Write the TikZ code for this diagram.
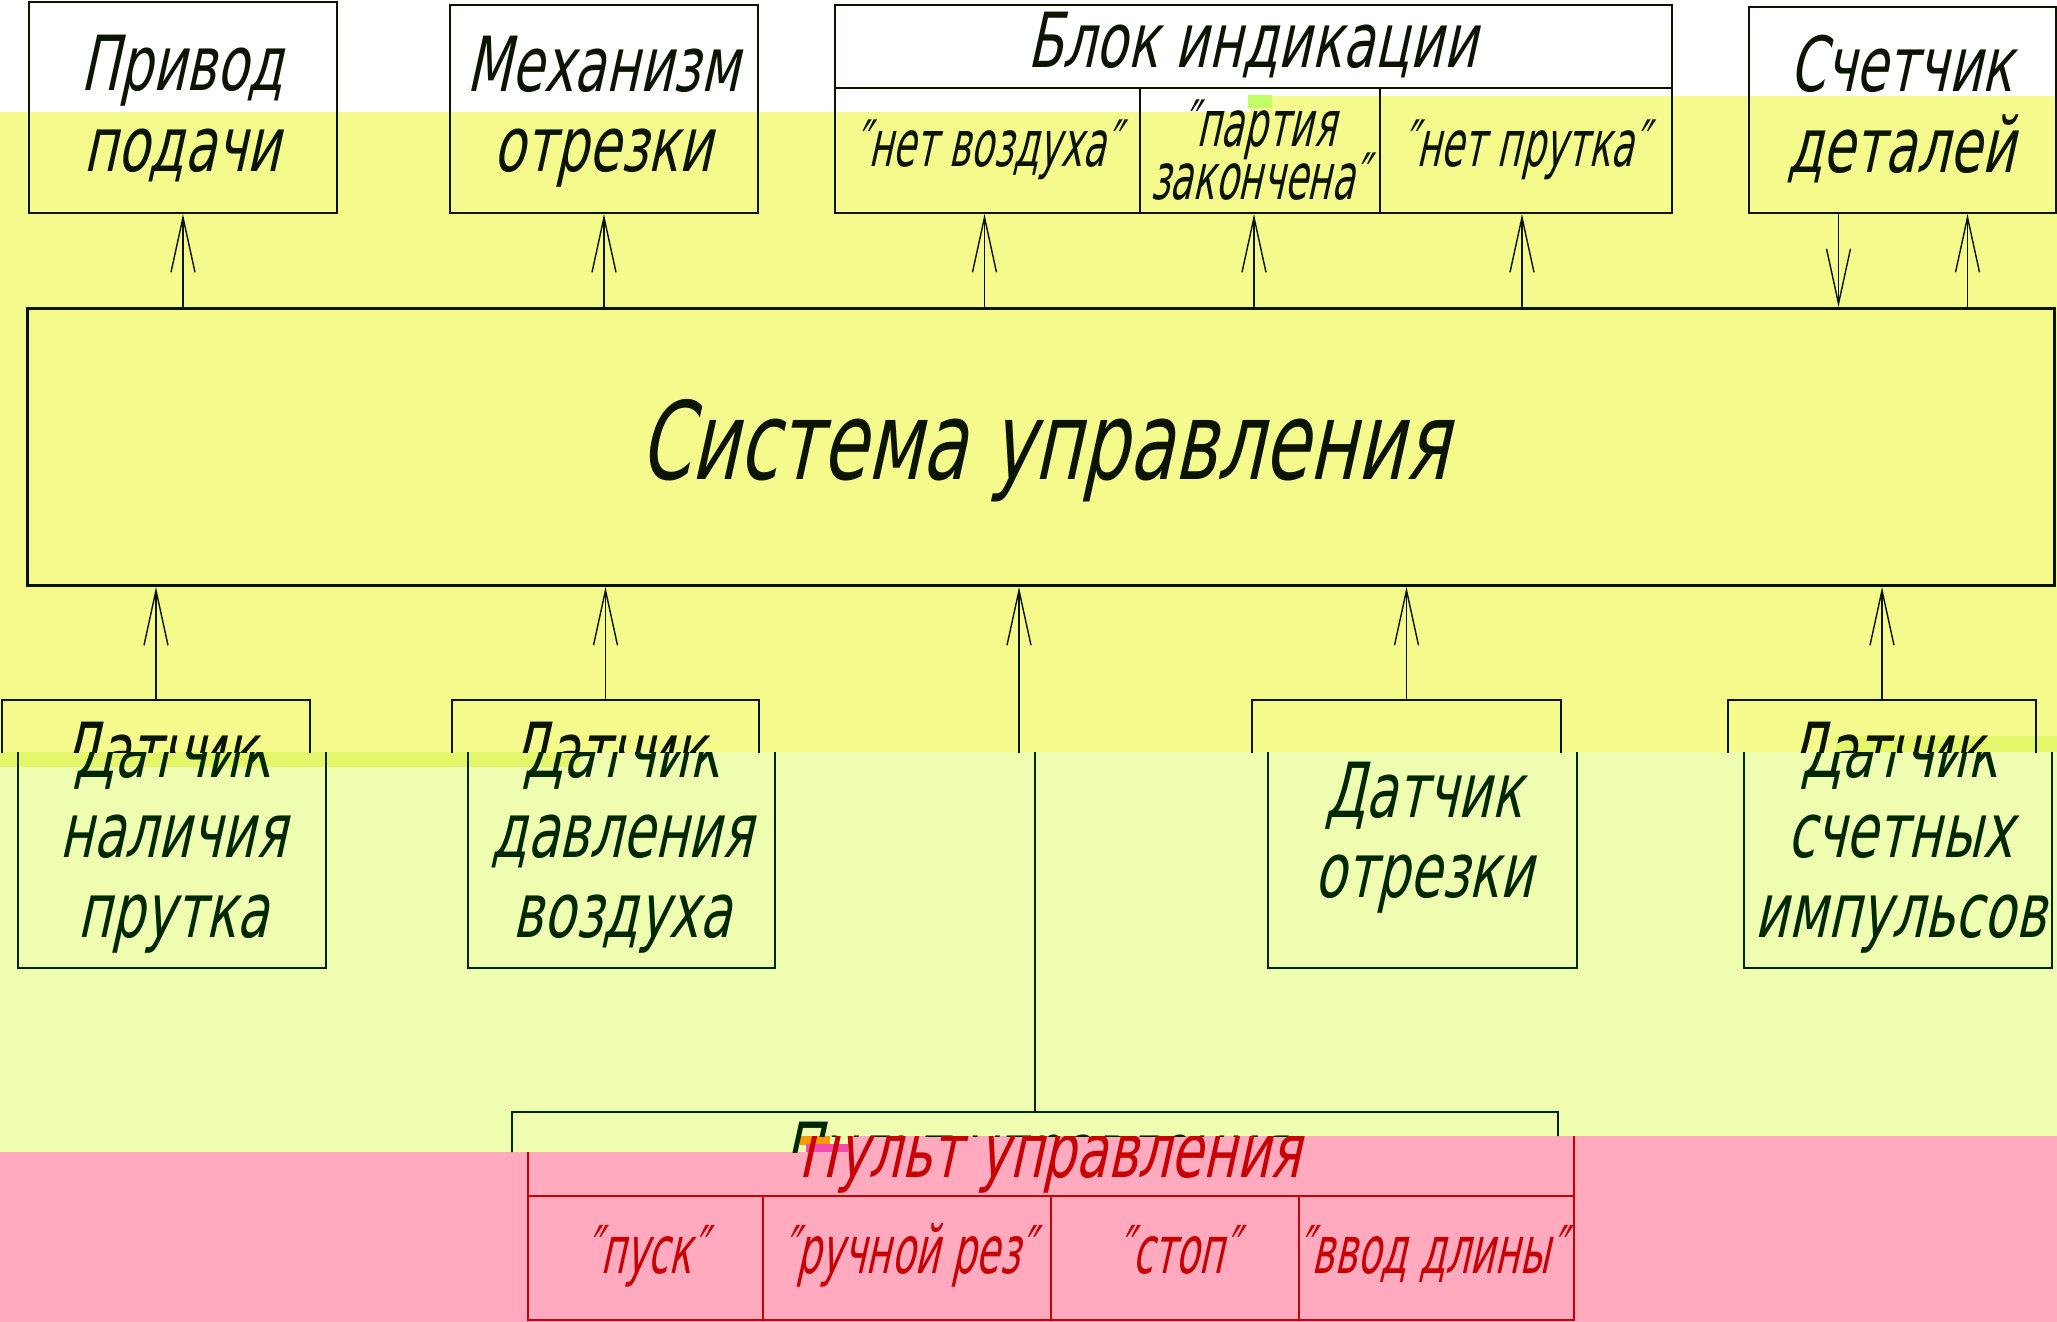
\documentclass[tikz,border=0pt]{standalone}
\usepackage{fontspec}
\usetikzlibrary{arrows.meta,calc}
\newfontfamily\gostm[FakeSlant=0.22,FakeStretch=0.68]{DejaVu Sans}
\newfontfamily\gosts[FakeSlant=0.22,FakeStretch=0.58]{DejaVu Sans}
\newcommand\fm{\gostm\fontsize{76}{80}\selectfont}
\newcommand\fsys{\gostm\fontsize{108}{110}\selectfont}
\newcommand\fsm{\gosts\fontsize{64}{66}\selectfont}
\newcommand\fbt{\gosts\fontsize{66}{68}\selectfont}
\definecolor{bgyel}{HTML}{F4FA8C}
\definecolor{bglight}{HTML}{EEFDB0}
\definecolor{bgpink}{HTML}{FFAABE}
\definecolor{bgstrip}{HTML}{E4F76A}
\definecolor{inkA}{HTML}{0A1400}
\definecolor{inkB}{HTML}{002800}
\definecolor{inkC}{HTML}{C80000}
\colorlet{lc}{inkA}
\colorlet{tc}{inkA}
\tikzset{
  bx/.style={draw=lc, line width=2pt, inner sep=0pt, anchor=north west},
  tx/.style={text=tc, inner sep=0pt, anchor=base},
  arr/.style={draw=lc, line width=1.8pt, -{Straight Barb[length=55pt,width=24pt,line width=1.4pt]}},
}
% boxes and connectors of the whole diagram
\newcommand\drawframes{%
  \node[bx, minimum width=308, minimum height=211] (priv) at (28,1) {};
  \node[bx, minimum width=308, minimum height=208] (mech) at (449,4) {};
  \node[bx, minimum width=837, minimum height=83] (blk) at (834,4) {};
  \node[bx, minimum width=305, minimum height=125] (c1) at (834,87) {};
  \node[bx, minimum width=240, minimum height=125] (c2) at (1139,87) {};
  \node[bx, minimum width=292, minimum height=125] (c3) at (1379,87) {};
  \node[bx, minimum width=307, minimum height=206] (cnt) at (1748,6) {};
  \node[bx, line width=3pt, minimum width=2027, minimum height=277] (sys) at (26,307) {};
  \node[bx, minimum width=308, minimum height=268] (s1) at (1,699) {};
  \node[bx, minimum width=307, minimum height=268] (s2) at (451,699) {};
  \node[bx, minimum width=309, minimum height=268] (s3) at (1251,699) {};
  \node[bx, minimum width=308, minimum height=268] (s4) at (1727,699) {};
  \node[bx, minimum width=1046, minimum height=84] (pult) at (495,1111) {};
  \node[bx, minimum width=235, minimum height=124] (b1) at (495,1195) {};
  \node[bx, minimum width=288, minimum height=124] (b2) at (730,1195) {};
  \node[bx, minimum width=248, minimum height=124] (b3) at (1018,1195) {};
  \node[bx, minimum width=275, minimum height=124] (b4) at (1266,1195) {};
  \coordinate (c1p) at ($(c1.south)+(-3,0)$);
  \coordinate (c2p) at ($(c2.south)+(-6,0)$);
  \coordinate (c3p) at ($(c3.south)+(-4,0)$);
  \coordinate (cntd) at ($(cnt.south)+(-64,0)$);
  \coordinate (cntu) at ($(cnt.south)+(65,0)$);
  \draw[arr] (sys.north -| priv.south) -- (priv.south);
  \draw[arr] (sys.north -| mech.south) -- (mech.south);
  \draw[arr] (sys.north -| c1p) -- (c1p);
  \draw[arr] (sys.north -| c2p) -- (c2p);
  \draw[arr] (sys.north -| c3p) -- (c3p);
  \draw[arr] (cntd) -- (sys.north -| cntd);
  \draw[arr] (sys.north -| cntu) -- (cntu);
  \draw[arr] (s1.north) -- (s1.north |- sys.south);
  \draw[arr] (s2.north) -- (s2.north |- sys.south);
  \draw[arr] (s3.north) -- (s3.north |- sys.south);
  \draw[arr] (s4.north) -- (s4.north |- sys.south);
  \draw[arr] (pult.north) -- (pult.north |- sys.south);
}
% texts that show in the upper (unshifted) band
\newcommand\textsA{%
  \node[tx, font=\fm] (priv-a) at (182,91) {Привод};
  \node[tx, font=\fm] (priv-b) at (182,171) {подачи};
  \node[tx, font=\fm] (mech-a) at (603,92) {Механизм};
  \node[tx, font=\fm] (mech-b) at (603,171) {отрезки};
  \node[tx, font=\fm] (blk-a) at (1252,68) {Блок индикации};
  \node[tx, font=\fsm] (c1-a) at (987,166) {″нет воздуха″};
  \node[tx, font=\fsm] (c2-a) at (1259,146) {″партия};
  \node[tx, font=\fsm] (c2-b) at (1259,199) {закончена″};
  \node[tx, font=\fsm] (c3-a) at (1525,166) {″нет прутка″};
  \node[tx, font=\fm] (cnt-a) at (1901,92) {Счетчик};
  \node[tx, font=\fm] (cnt-b) at (1901,172) {деталей};
  \node[tx, font=\fsys] (sys-a) at (1044,479) {Система управления};
  \node[tx, font=\fm] (s1-a) at (157,777) {Датчик};
  \node[tx, font=\fm] (s2-a) at (606,777) {Датчик};
  \node[tx, font=\fm] (s4-a) at (1884,777) {Датчик};
}
% texts that show in the middle band
\newcommand\textsB{%
  \node[tx, font=\fm] (s1-a) at (157,777) {Датчик};
  \node[tx, font=\fm] (s1-b) at (157,857) {наличия};
  \node[tx, font=\fm] (s1-c) at (157,937) {прутка};
  \node[tx, font=\fm] (s2-a) at (606,777) {Датчик};
  \node[tx, font=\fm] (s2-b) at (606,857) {давления};
  \node[tx, font=\fm] (s2-c) at (606,937) {воздуха};
  \node[tx, font=\fm] (s3-a) at (1408,817) {Датчик};
  \node[tx, font=\fm] (s3-b) at (1408,897) {отрезки};
  \node[tx, font=\fm] (s4-a) at (1884,777) {Датчик};
  \node[tx, font=\fm] (s4-b) at (1884,857) {счетных};
  \node[tx, font=\fm] (s4-c) at (1884,937) {импульсов};
  \node[tx, font=\fm] (pult-a) at (1018,1177) {Пульт управления};
}
% texts that show in the pink band
\newcommand\textsC{%
  \node[tx, font=\fm] (pult-a) at (1018,1177) {Пульт управления};
  \node[tx, font=\fbt] (b1-a) at (614,1273) {″пуск″};
  \node[tx, font=\fbt] (b2-a) at (876,1273) {″ручной рез″};
  \node[tx, font=\fbt] (b3-a) at (1146,1273) {″стоп″};
  \node[tx, font=\fbt] (b4-a) at (1399,1273) {″ввод длины″};
}
\begin{document}
\begin{tikzpicture}[x=1pt,y=-1pt]
  \useasboundingbox (0,0) rectangle (2057,1322);
  % background bands
  \fill[bgyel] (0,0) rectangle (2057,752);
  \fill[white] (0,0) rectangle (1250,112);
  \fill[white] (1250,0) rectangle (2057,96);
  \fill[bglight] (0,752) rectangle (2057,1152);
  \fill[bgpink] (0,1152) rectangle (2057,1322);
  \fill[bgpink] (848,1136) rectangle (2057,1152);
  \fill[bgstrip] (0,752) rectangle (580,767);
  \fill[bgstrip] (1836,736) rectangle (2057,752);
  \fill[orange!80!yellow] (800,1136) rectangle (830,1145);
  \fill[magenta!70] (806,1144) rectangle (848,1152);
  \fill[green!40!yellow!60] (1248,95) rectangle (1272,108);
  % upper part, unshifted
  \begin{scope}
    \clip (0,0) rectangle (2057,752);
    \colorlet{lc}{inkA}\colorlet{tc}{inkA}
    \begin{scope}[name prefix=A-]
      \drawframes
      \textsA
    \end{scope}
  \end{scope}
  % middle band, shifted right
  \begin{scope}
    \clip (0,752) -- (2057,752) -- (2057,1136) -- (800,1136) -- (800,1152) -- (0,1152) -- cycle;
    \colorlet{lc}{inkB}\colorlet{tc}{inkB}
    \begin{scope}[xshift=16pt, name prefix=B-]
      \drawframes
      \textsB
    \end{scope}
  \end{scope}
  % pink band, shifted further
  \begin{scope}
    \clip (0,1152) -- (800,1152) -- (800,1136) -- (2057,1136) -- (2057,1322) -- (0,1322) -- cycle;
    \colorlet{lc}{inkC}\colorlet{tc}{inkC}
    \begin{scope}[xshift=32pt, name prefix=C-]
      \drawframes
      \textsC
    \end{scope}
  \end{scope}
\end{tikzpicture}
\end{document}
